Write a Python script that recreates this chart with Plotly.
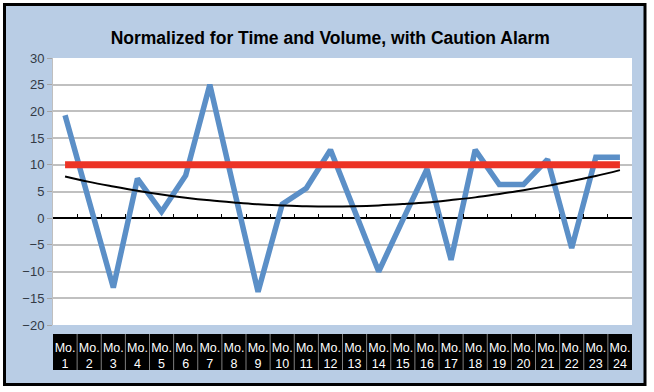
import plotly.graph_objects as go

# ---- data ----
months = [f"Mo. {i}" for i in range(1, 25)]
month_ticktext = [f"Mo.<br>{i}" for i in range(1, 25)]
normalized = [19.3, 3.3, -13.0, 7.4, 1.2, 8.0, 25.0, 5.5, -13.8, 2.6, 5.6, 12.8,
              1.5, -10.0, -0.3, 9.2, -7.8, 12.8, 6.3, 6.3, 11.0, -5.6, 11.4, 11.4]
caution_alarm = [10] * 24
trend = [7.8, 6.8, 5.95, 5.15, 4.45, 3.85, 3.35, 2.95, 2.6, 2.4, 2.25, 2.2,
         2.25, 2.4, 2.65, 2.95, 3.4, 3.9, 4.55, 5.25, 6.05, 6.95, 7.9, 9.0]
y_ticks = [-20, -15, -10, -5, 0, 5, 10, 15, 20, 25, 30]
title_text = "Normalized for Time and Volume, with Caution Alarm"

W, H = 654, 392
L, R, T, B = 53, 22, 58, 67
pw, ph = W - L - R, H - T - B


def px_x(p):
    return (p - L) / pw


def px_y(p):
    return (H - B - p) / ph


fig = go.Figure()
fig.add_trace(go.Scatter(x=months, y=normalized, mode="lines",
                         line=dict(color="#5B8FC7", width=5.5), hoverinfo="skip",
                         xaxis="x", yaxis="y"))
fig.add_trace(go.Scatter(x=months, y=caution_alarm, mode="lines",
                         line=dict(color="#EC3325", width=7), hoverinfo="skip",
                         xaxis="x", yaxis="y"))
fig.add_trace(go.Scatter(x=months, y=trend, mode="lines",
                         line=dict(color="#000000", width=2, shape="spline"),
                         hoverinfo="skip", xaxis="x2", yaxis="y"))

shapes = [
    # outer frame
    dict(type="rect", xref="paper", yref="paper",
         x0=px_x(4.5), x1=px_x(645), y0=px_y(384.5), y1=px_y(4.5),
         fillcolor="#B9CDE5", line=dict(color="#000000", width=3), layer="below"),
    # plot area
    dict(type="rect", xref="paper", yref="paper", x0=0, x1=1, y0=0, y1=1,
         fillcolor="#FFFFFF", line=dict(width=0), layer="below"),
    # category label band
    dict(type="rect", xref="paper", yref="paper", x0=0, x1=1,
         y0=px_y(370), y1=px_y(334),
         fillcolor="#000000", line=dict(width=0), layer="below"),
]
for i in range(len(months) - 1):
    shapes.append(dict(type="line", xref="x", yref="paper", x0=i + 0.5, x1=i + 0.5,
                       y0=px_y(370), y1=px_y(334),
                       line=dict(color="#7F7F7F", width=1), layer="above"))

fig.update_layout(
    width=W, height=H,
    margin=dict(l=L, r=R, t=T, b=B, pad=0),
    paper_bgcolor="#FFFFFF", plot_bgcolor="#FFFFFF",
    showlegend=False,
    title=dict(text=title_text, x=0.505, xanchor="center", y=1 - 38 / H,
               yanchor="middle",
               font=dict(family="Liberation Sans", size=17.5, color="#000000",
                         weight="bold")),
    xaxis=dict(type="category", categoryorder="array", categoryarray=months,
               range=[-0.5, 23.5], tickvals=months, ticktext=month_ticktext,
               showgrid=False, showline=False, zeroline=False, ticks="",
               tickfont=dict(family="Liberation Sans", size=12.5, color="#FFFFFF"),
               ticklabelstandoff=13, fixedrange=True),
    xaxis2=dict(type="category", categoryorder="array", categoryarray=months,
                overlaying="x", anchor="free", position=0.4,
                range=[-0.5, 23.5], tickson="boundaries", ticks="inside",
                ticklen=4, tickcolor="#000000", tickwidth=1,
                showticklabels=False, showgrid=False, showline=False,
                zeroline=False, fixedrange=True),
    yaxis=dict(range=[-20, 30], tickvals=y_ticks, showgrid=True,
               gridcolor="#C0C0C0", gridwidth=1.5,
               zeroline=True, zerolinecolor="#000000", zerolinewidth=1.5,
               showline=True, linecolor="#BFBFBF", linewidth=1,
               ticks="outside", ticklen=5, tickcolor="#A6A6A6",
               tickfont=dict(family="Liberation Sans", size=13, color="#333A45"),
               fixedrange=True),
    shapes=shapes,
)

fig.write_html("out.html", config={"displayModeBar": False},
               post_script="document.body.style.margin='0';"
                           "document.body.style.overflow='hidden';")
